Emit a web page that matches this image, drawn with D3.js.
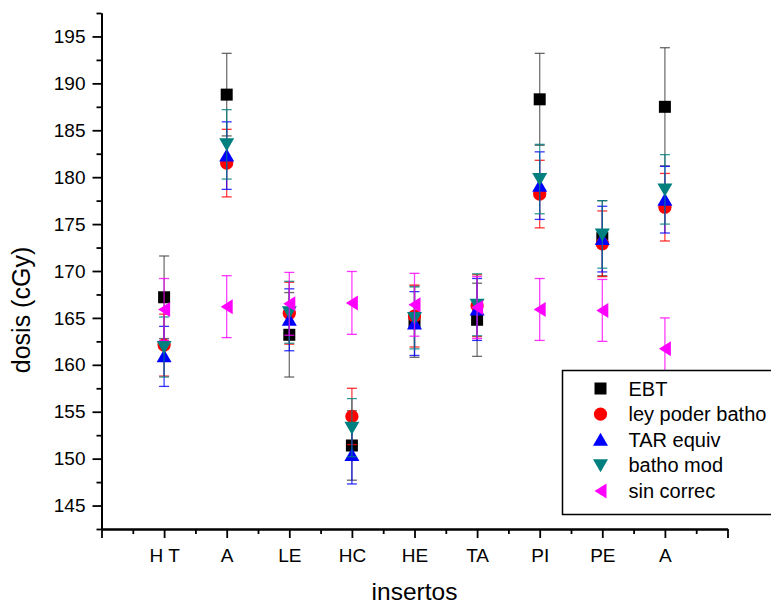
<!DOCTYPE html>
<html>
<head>
<meta charset="utf-8">
<script src="https://cdn.jsdelivr.net/npm/d3@7"></script>
<style>
  body { margin: 0; background: #fff; }
  svg text { font-family: "Liberation Sans", Arial, sans-serif; fill: #000; }
</style>
</head>
<body>
<div id="chart"></div>
<script>
// categories along the x axis (positions 1..9)
var categories = ["H T", "A", "LE", "HC", "HE", "TA", "PI", "PE", "A"];

var ebt      = [167.2, 188.8, 163.2, 151.4, 164.6, 164.8, 188.3, 173.5, 187.5];
var ebtErr   = [4.4, 4.4, 4.5, 3.7, 3.8, 3.9, 4.9, 4.0, 6.3];
var leyPoder = [162.1, 181.5, 165.5, 154.5, 165.2, 166.3, 178.2, 172.9, 176.8];
var leyErr   = [3.3, 3.6, 3.3, 3.0, 3.3, 3.3, 3.6, 3.5, 3.6];
var tarEquiv = [160.9, 182.3, 164.8, 150.4, 164.4, 165.9, 179.1, 173.4, 177.6];
var tarErr   = [3.2, 3.6, 3.3, 3.1, 3.4, 3.3, 3.6, 3.5, 3.55];
var bathoMod = [161.9, 183.5, 165.6, 153.3, 165.0, 166.4, 179.8, 173.9, 178.7];
var bathoErr = [3.2, 3.7, 3.3, 3.1, 3.3, 3.3, 3.7, 3.6, 3.7];
var sinCorr  = [165.9, 166.2, 166.5, 166.6, 166.4, 166.1, 165.9, 165.8, 161.7];
var sinErr   = [3.3, 3.3, 3.35, 3.35, 3.35, 3.3, 3.3, 3.3, 3.3];

var yMajor = [145, 150, 155, 160, 165, 170, 175, 180, 185, 190, 195];

var series = [
  {name: "EBT", values: ebt, err: ebtErr, color: "#000000", bar: "#444444", shape: "square"},
  {name: "ley poder batho", values: leyPoder, err: leyErr, color: "#ff0000", bar: "#ff0000", shape: "circle"},
  {name: "TAR equiv", values: tarEquiv, err: tarErr, color: "#0000ff", bar: "#0000ff", shape: "up"},
  {name: "batho mod", values: bathoMod, err: bathoErr, color: "#007f7f", bar: "#008080", shape: "down"},
  {name: "sin correc", values: sinCorr, err: sinErr, color: "#ff00ff", bar: "#ff00ff", shape: "left"}
];

var width = 771, height = 604;
var plotLeft = 101.5, plotRight = 727.5, plotTop = 13, plotBottom = 529;

var svg = d3.select("#chart").append("svg")
  .attr("width", width)
  .attr("height", height);

var x = d3.scaleLinear().domain([0, 10]).range([plotLeft, plotRight]);
var y = d3.scaleLinear().domain([142.5, 197.5]).range([plotBottom, plotTop]);

function shapePath(shape) {
  if (shape === "square") return "M-6,-6H6V6H-6Z";
  if (shape === "circle") return d3.symbol().type(d3.symbolCircle).size(138)();
  if (shape === "up") return "M0,-7L7.5,6L-7.5,6Z";
  if (shape === "down") return "M0,7L7.5,-6L-7.5,-6Z";
  if (shape === "left") return "M-6,0L6,-7.5L6,7.5Z";
}

// error bars and markers, series by series
series.forEach(function (s) {
  var g = svg.append("g").attr("class", "series");
  var idx = d3.range(s.values.length);

  g.selectAll("line.err")
    .data(idx)
    .enter().append("line")
      .attr("class", "err")
      .attr("x1", function (i) { return x(i + 1); })
      .attr("x2", function (i) { return x(i + 1); })
      .attr("y1", function (i) { return y(s.values[i] + s.err[i]); })
      .attr("y2", function (i) { return y(s.values[i] - s.err[i]); })
      .attr("stroke", s.bar)
      .attr("stroke-width", 1.3)
      .attr("stroke-opacity", 0.75);

  [1, -1].forEach(function (sign) {
    g.selectAll("line.cap" + (sign > 0 ? "hi" : "lo"))
      .data(idx)
      .enter().append("line")
        .attr("class", "cap" + (sign > 0 ? "hi" : "lo"))
        .attr("x1", function (i) { return x(i + 1) - 5; })
        .attr("x2", function (i) { return x(i + 1) + 5; })
        .attr("y1", function (i) { return y(s.values[i] + sign * s.err[i]); })
        .attr("y2", function (i) { return y(s.values[i] + sign * s.err[i]); })
        .attr("stroke", s.bar)
        .attr("stroke-width", 1.3)
        .attr("stroke-opacity", 0.8);
  });

  g.selectAll("path.mark")
    .data(idx)
    .enter().append("path")
      .attr("class", "mark")
      .attr("d", shapePath(s.shape))
      .attr("transform", function (i) { return "translate(" + x(i + 1) + "," + y(s.values[i]) + ")"; })
      .attr("fill", s.color);
});

// y axis: major + minor ticks
svg.append("g")
  .attr("transform", "translate(" + plotLeft + ",0)")
  .call(d3.axisLeft(y).tickValues(yMajor).tickSize(9).tickPadding(7).tickSizeOuter(0));
svg.append("g")
  .attr("transform", "translate(" + plotLeft + ",0)")
  .call(d3.axisLeft(y).tickValues(d3.range(142.5, 198, 5)).tickSize(5).tickFormat("").tickSizeOuter(0));

// x axis: categories at integer positions, minor ticks at halves
svg.append("g")
  .attr("transform", "translate(0," + plotBottom + ")")
  .call(d3.axisBottom(x).tickValues(d3.range(0, 11)).tickSize(9).tickPadding(11).tickSizeOuter(0)
    .tickFormat(function (d) { return (d >= 1 && d <= 9) ? categories[d - 1] : ""; }));
svg.append("g")
  .attr("transform", "translate(0," + plotBottom + ")")
  .call(d3.axisBottom(x).tickValues(d3.range(0.5, 10, 1)).tickSize(5).tickFormat("").tickSizeOuter(0));

svg.selectAll(".domain").attr("stroke", "#000").attr("stroke-width", 2);
svg.selectAll(".tick line").attr("stroke", "#000").attr("stroke-width", 1.8);
svg.selectAll(".tick text")
  .style("font-family", "'Liberation Sans', Arial, sans-serif")
  .style("font-size", "19px")
  .attr("fill", "#000");

// axis titles
svg.append("text")
  .attr("x", (plotLeft + plotRight) / 2)
  .attr("y", 600)
  .attr("text-anchor", "middle")
  .style("font-size", "24.5px")
  .text("insertos");

svg.append("text")
  .attr("transform", "translate(30,310) rotate(-90)")
  .attr("text-anchor", "middle")
  .style("font-size", "25px")
  .text("dosis (cGy)");

// legend
var legend = svg.append("g").attr("transform", "translate(562.5,370.5)");
legend.append("rect")
  .attr("width", 230)
  .attr("height", 144)
  .attr("fill", "#fff")
  .attr("stroke", "#000")
  .attr("stroke-width", 1.5);

var rows = legend.selectAll("g.row")
  .data(series)
  .enter().append("g")
    .attr("class", "row")
    .attr("transform", function (d, i) { return "translate(0," + (18 + i * 25.6) + ")"; });

rows.append("path")
  .attr("d", function (d) { return shapePath(d.shape); })
  .attr("transform", "translate(38,0)")
  .attr("fill", function (d) { return d.color; });

rows.append("text")
  .attr("x", 66)
  .attr("y", 7)
  .style("font-size", "20px")
  .text(function (d) { return d.name; });
</script>
</body>
</html>
